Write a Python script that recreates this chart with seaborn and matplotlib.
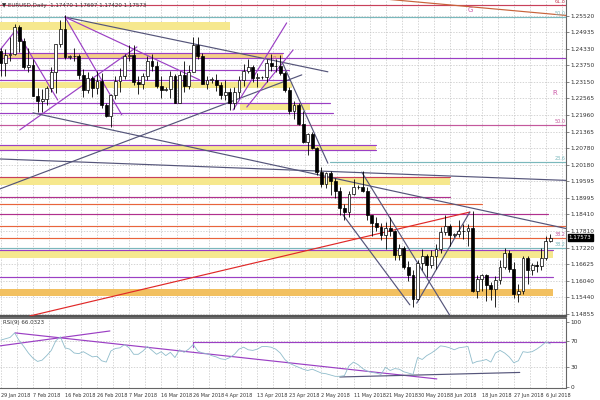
import numpy as np
import seaborn as sns
import matplotlib.pyplot as plt

sns.set_theme(style="white")
plt.rcParams["font.family"] = ["DejaVu Sans"]

# ---- daily candles (bar index 0 = 29 Jan 2018) ----
opens = [1.2427, 1.2384, 1.2411, 1.2414, 1.2511, 1.2461, 1.2368, 1.2377, 1.2265, 1.2248,
         1.2252, 1.2292, 1.2351, 1.2449, 1.2505, 1.2405, 1.2406, 1.2407, 1.2339, 1.2286,
         1.2328, 1.2293, 1.2319, 1.2232, 1.2192, 1.2268, 1.2318, 1.2336, 1.2407, 1.2410,
         1.2313, 1.2307, 1.2335, 1.2391, 1.2370, 1.2301, 1.2287, 1.2290, 1.2336, 1.2240,
         1.2340, 1.2300, 1.2352, 1.2447, 1.2408, 1.2309, 1.2323, 1.2323, 1.2302, 1.2268,
         1.2277, 1.2239, 1.2280, 1.2322, 1.2355, 1.2367, 1.2329, 1.2331, 1.2333, 1.2381,
         1.2372, 1.2373, 1.2347, 1.2287, 1.2212, 1.2233, 1.2163, 1.2101, 1.2129, 1.2079,
         1.1992, 1.1950, 1.1988, 1.1960, 1.1925, 1.1864, 1.1850, 1.1915, 1.1940, 1.1938,
         1.1925, 1.1838, 1.1809, 1.1795, 1.1768, 1.1792, 1.1780, 1.1697, 1.1721, 1.1653,
         1.1625, 1.1537, 1.1665, 1.1693, 1.1658, 1.1693, 1.1716, 1.1776, 1.1800, 1.1768,
         1.1770, 1.1781, 1.1780, 1.1792, 1.1568, 1.1610, 1.1624, 1.1588, 1.1572, 1.1607,
         1.1654, 1.1701, 1.1647, 1.1555, 1.1568, 1.1685, 1.1641, 1.1660, 1.1655, 1.1686,
         1.1747]
highs = [1.2437, 1.2431, 1.2476, 1.2523, 1.2518, 1.2471, 1.2435, 1.2398, 1.2294, 1.2289,
         1.2300, 1.2367, 1.2450, 1.2537, 1.2555, 1.2412, 1.2435, 1.2415, 1.2361, 1.2350,
         1.2335, 1.2354, 1.2346, 1.2240, 1.2273, 1.2336, 1.2365, 1.2413, 1.2446, 1.2446,
         1.2335, 1.2347, 1.2406, 1.2413, 1.2389, 1.2337, 1.2295, 1.2354, 1.2344, 1.2354,
         1.2388, 1.2374, 1.2476, 1.2477, 1.2420, 1.2337, 1.2333, 1.2343, 1.2315, 1.2323,
         1.2292, 1.2296, 1.2337, 1.2378, 1.2396, 1.2376, 1.2348, 1.2337, 1.2396, 1.2414,
         1.2396, 1.2412, 1.2353, 1.2295, 1.2248, 1.2240, 1.2209, 1.2131, 1.2135, 1.2083,
         1.2010, 1.1993, 1.1996, 1.1970, 1.1939, 1.1879, 1.1926, 1.1968, 1.1946, 1.1996,
         1.1937, 1.1840, 1.1831, 1.1810, 1.1815, 1.1833, 1.1784, 1.1734, 1.1726, 1.1673,
         1.1640, 1.1676, 1.1718, 1.1700, 1.1715, 1.1734, 1.1796, 1.1840, 1.1806, 1.1775,
         1.1820, 1.1806, 1.1808, 1.1852, 1.1625, 1.1627, 1.1628, 1.1600, 1.1620, 1.1676,
         1.1721, 1.1714, 1.1671, 1.1591, 1.1692, 1.1690, 1.1666, 1.1674, 1.1720, 1.1764,
         1.1770]
lows = [1.2337, 1.2336, 1.2391, 1.2411, 1.2422, 1.2360, 1.2352, 1.2265, 1.2206, 1.2206,
        1.2232, 1.2280, 1.2274, 1.2440, 1.2396, 1.2398, 1.2390, 1.2324, 1.2260, 1.2275,
        1.2262, 1.2272, 1.2223, 1.2189, 1.2155, 1.2254, 1.2279, 1.2324, 1.2390, 1.2303,
        1.2272, 1.2288, 1.2320, 1.2353, 1.2294, 1.2258, 1.2282, 1.2256, 1.2239, 1.2240,
        1.2280, 1.2290, 1.2350, 1.2396, 1.2306, 1.2290, 1.2310, 1.2283, 1.2254, 1.2250,
        1.2215, 1.2218, 1.2258, 1.2300, 1.2348, 1.2316, 1.2297, 1.2325, 1.2313, 1.2355,
        1.2352, 1.2338, 1.2278, 1.2199, 1.2183, 1.2162, 1.2095, 1.2054, 1.2074, 1.1983,
        1.1938, 1.1936, 1.1910, 1.1901, 1.1838, 1.1822, 1.1832, 1.1910, 1.1932, 1.1920,
        1.1820, 1.1763, 1.1780, 1.1750, 1.1716, 1.1765, 1.1676, 1.1677, 1.1646, 1.1604,
        1.1510, 1.1535, 1.1642, 1.1617, 1.1650, 1.1644, 1.1703, 1.1766, 1.1726, 1.1760,
        1.1760, 1.1753, 1.1726, 1.1562, 1.1542, 1.1565, 1.1530, 1.1536, 1.1508, 1.1592,
        1.1645, 1.1633, 1.1541, 1.1527, 1.1557, 1.1591, 1.1624, 1.1636, 1.1641, 1.1679,
        1.1742]
closes = [1.2384, 1.2411, 1.2414, 1.2511, 1.2461, 1.2368, 1.2377, 1.2265, 1.2248, 1.2252,
          1.2292, 1.2351, 1.2449, 1.2505, 1.2405, 1.2406, 1.2407, 1.2339, 1.2286, 1.2328,
          1.2293, 1.2319, 1.2232, 1.2192, 1.2268, 1.2318, 1.2336, 1.2407, 1.2410, 1.2313,
          1.2307, 1.2335, 1.2391, 1.2370, 1.2301, 1.2287, 1.2290, 1.2336, 1.2240, 1.2340,
          1.2300, 1.2352, 1.2447, 1.2408, 1.2309, 1.2323, 1.2323, 1.2302, 1.2268, 1.2277,
          1.2239, 1.2280, 1.2322, 1.2355, 1.2367, 1.2329, 1.2331, 1.2333, 1.2381, 1.2372,
          1.2373, 1.2347, 1.2287, 1.2212, 1.2233, 1.2163, 1.2101, 1.2129, 1.2079, 1.1992,
          1.1950, 1.1988, 1.1960, 1.1925, 1.1864, 1.1850, 1.1915, 1.1940, 1.1938, 1.1925,
          1.1838, 1.1809, 1.1795, 1.1768, 1.1792, 1.1780, 1.1697, 1.1721, 1.1653, 1.1625,
          1.1537, 1.1665, 1.1693, 1.1658, 1.1693, 1.1716, 1.1776, 1.1800, 1.1768, 1.1770,
          1.1781, 1.1780, 1.1792, 1.1568, 1.1610, 1.1624, 1.1588, 1.1572, 1.1607, 1.1654,
          1.1701, 1.1647, 1.1555, 1.1568, 1.1685, 1.1641, 1.1660, 1.1655, 1.1686, 1.1747,
          1.17573]

# RSI(9)
rsi = [72, 74, 76, 83, 71, 62, 52, 44, 39, 41, 48, 56, 71, 77, 60, 58, 52, 51, 54, 50,
       46, 47, 40, 38, 55, 59, 60, 65, 60, 50, 50, 55, 62, 56, 50, 54, 48, 53, 45, 57,
       53, 58, 65, 55, 52, 51, 48, 46, 43, 42, 45, 50, 58, 61, 57, 56, 58, 62, 62, 61,
       58, 52, 42, 36, 33, 30, 27, 25, 27, 24, 21, 20, 18, 16, 16, 17, 32, 38, 34, 28,
       24, 22, 21, 19, 30, 25, 28, 27, 23, 21, 19, 45, 42, 48, 52, 57, 63, 62, 60, 57,
       60, 61, 62, 36, 39, 40, 42, 38, 52, 56, 52, 46, 37, 40, 54, 53, 54, 58, 63, 69,
       66]

date_bars = [0, 7, 14, 21, 28, 35, 42, 49, 56, 63, 70, 77, 84, 91, 98, 105, 112, 119]
date_labels = ["29 Jan 2018", "7 Feb 2018", "16 Feb 2018", "26 Feb 2018", "7 Mar 2018",
               "16 Mar 2018", "26 Mar 2018", "4 Apr 2018", "13 Apr 2018", "23 Apr 2018",
               "2 May 2018", "11 May 2018", "21 May 2018", "30 May 2018", "8 Jun 2018",
               "18 Jun 2018", "27 Jun 2018", "6 Jul 2018"]

price_labels = ["1.25520", "1.24935", "1.24330", "1.23750", "1.23150", "1.22565", "1.21960",
                "1.21365", "1.20780", "1.20180", "1.19595", "1.18995", "1.18410", "1.17810",
                "1.17220", "1.16625", "1.16040", "1.15440", "1.14855"]

# horizontal levels: price, from bar, to bar
level_price = [1.2590, 1.2547, 1.2418, 1.2401, 1.2358, 1.2322, 1.2240, 1.2204, 1.2161,
               1.2089, 1.2071, 1.2028, 1.1975, 1.1903, 1.1878, 1.1842, 1.1799, 1.1756,
               1.1721, 1.1714, 1.1617]
level_from = [-1, -1, -1, -1, -1, -1, -1, -1, -1, -1, -1, 71.8, -1, -1, -1, -1, -1, -1, -1, -1, -1]
level_to = [124, 124, 61.6, 124, 63, 63, 71.8, 72.5, 124, 82, 82, 124, 98, 98, 105, 119.4,
            124, 124, 124, 120.5, 120.5]
level_kind = ["red", "teal", "purple", "purple", "purple", "purple", "purple", "purple", "pink",
              "purple", "purple", "teal", "red", "magenta", "orange", "magenta", "orange",
              "orange", "teal", "purple", "purple"]

# support / resistance zones: low, high, from bar, to bar
zone_low = [1.2501, 1.2397, 1.2293, 1.2215, 1.2071, 1.1946, 1.1685, 1.1549]
zone_high = [1.2529, 1.2415, 1.2315, 1.2236, 1.2089, 1.1975, 1.1714, 1.1574]
zone_from = [-1, -1, -1, 52.2, -1, -1, -1, -1]
zone_to = [50, 61.6, 63.5, 67.5, 82, 98, 120.5, 120.5]
zone_kind = ["yellow", "tan", "yellow", "yellow", "yellow", "yellow", "yellow", "gold"]

# trend lines: bar0, price0, bar1, price1
trend_x0 = [-0.2, 3.3, 14.0, 14.0, 14.0, 4.1, 7.0, -0.2, 50.7, 53.7, 61.4, -0.2, 6.3, 78.8, 74.7, 102.4, 74.0]
trend_y0 = [1.2429, 1.2501, 1.2547, 1.2547, 1.2547, 1.2143, 1.2204, 1.1932, 1.2214, 1.2225,
            1.2386, 1.2039, 1.1477, 1.1992, 1.1839, 1.1849, 1.2626]
trend_x1 = [3.3, 12.4, 26.4, 71.4, 43.4, 29.7, 124, 65.7, 62.4, 63.8, 71.4, 124, 102.4, 98.0, 89.3, 90.8, 124]
trend_y1 = [1.2501, 1.2250, 1.2197, 1.2351, 1.2322, 1.2440, 1.1788, 1.2340, 1.2526, 1.2429,
            1.2024, 1.1962, 1.1849, 1.1480, 1.1517, 1.1523, 1.2552]
trend_kind = ["purple", "purple", "purple", "slate", "purple", "purple", "slate", "slate",
              "purple", "purple", "slate", "slate", "red2", "slate", "slate", "slate", "brown"]

# RSI pane lines
rsi_line_x0 = [41.9, 3.1, -0.2, 74.0]
rsi_line_y0 = [69, 83, 63, 15]
rsi_line_x1 = [124, 95.2, 23.8, 113.3]
rsi_line_y1 = [69, 12, 86, 22]
rsi_line_kind = ["purple", "purple", "purple", "slate"]

colors = {"purple": "#9b3fc4", "pink": "#c4589c", "magenta": "#b0308e", "red": "#c8405a",
          "orange": "#e8643c", "teal": "#7ab8bc", "slate": "#55557a", "red2": "#e02828",
          "brown": "#c8623a", "yellow": "#f6e88e", "tan": "#f5cf86", "gold": "#f2c060"}

# ---- figure ----
fig = plt.figure(figsize=(6, 4), dpi=100)
ax = fig.add_axes([0.0, 0.21, 0.9433, 0.79])
ax2 = fig.add_axes([0.0, 0.03, 0.9433, 0.175])

grid_kw = dict(color="#c4c4c4", lw=0.5, ls=(0, (2, 2)), zorder=0)
for g in np.arange(0, 124, 3.5):
    ax.axvline(g, **grid_kw)
    ax2.axvline(g, **grid_kw)
for lab in price_labels:
    ax.axhline(float(lab), **grid_kw)
for v in [70, 30]:
    ax2.axhline(v, **grid_kw)

for lo, hi, x0, x1, k in zip(zone_low, zone_high, zone_from, zone_to, zone_kind):
    ax.fill_between([x0, x1], lo, hi, color=colors[k], lw=0, zorder=1)
for p, x0, x1, k in zip(level_price, level_from, level_to, level_kind):
    ax.plot([x0, x1], [p, p], color=colors[k], lw=0.85, zorder=2)
for x0, y0, x1, y1, k in zip(trend_x0, trend_y0, trend_x1, trend_y1, trend_kind):
    ax.plot([x0, x1], [y0, y1], color=colors[k], lw=0.85, zorder=3)

# candles
bars = np.arange(len(closes))
o, h, l, c = map(np.array, (opens, highs, lows, closes))
ax.vlines(bars, l, h, color="black", lw=0.6, zorder=4)
body_lo = np.minimum(o, c)
body_h = np.maximum(np.abs(c - o), 0.00015)
ax.bar(bars, body_h, bottom=body_lo, width=0.62,
       color=np.where(c >= o, "white", "black"), edgecolor="black", lw=0.5, zorder=5)

ax.set_xlim(-0.2, 123.4)
ax.set_ylim(1.1477, 1.2608)
ax.set_xticks([])
ax.yaxis.tick_right()
ax.set_yticks([float(v) for v in price_labels])
ax.set_yticklabels(price_labels, fontsize=4.2, color="#333333")
ax.tick_params(axis="y", length=2, pad=1.5, width=0.5, colors="#555555", labelcolor="#333333")
for s in ["left", "top"]:
    ax.spines[s].set_visible(False)
ax.spines["right"].set_color("#666666")
ax.spines["right"].set_linewidth(0.8)
ax.spines["bottom"].set_color("#555555")
ax.spines["bottom"].set_linewidth(1.6)

# fibo labels and markers
fib_text = ["61.8", "50.0", "50.0", "23.6", "38.2", "38.2"]
fib_price = [1.2592, 1.2550, 1.2164, 1.2031, 1.1759, 1.1724]
fib_kind = ["red", "teal", "pink", "teal", "pink", "teal"]
for t, p, k in zip(fib_text, fib_price, fib_kind):
    ax.text(123.2, p, t, fontsize=3.5, color=colors[k], ha="right", va="bottom")
ax.text(102.4, 1.2572, "G", fontsize=5, color="#cc5aa8", ha="center", va="center")
ax.text(121.0, 1.2275, "R", fontsize=5, color="#cc5aa8", ha="center", va="center")
ax.text(59.8, 1.2398, "R", fontsize=4, color="#cc5aa8", ha="center", va="center")

ax.annotate("1.17573", xy=(1.0, 1.17573), xycoords=("axes fraction", "data"),
            xytext=(2, 0), textcoords="offset points", fontsize=4, color="white",
            va="center", ha="left",
            bbox=dict(boxstyle="square,pad=0.2", fc="black", ec="black"))

# RSI pane
sns.lineplot(x=bars, y=rsi, ax=ax2, color="#8fbccb", lw=0.6, zorder=3)
for x0, y0, x1, y1, k in zip(rsi_line_x0, rsi_line_y0, rsi_line_x1, rsi_line_y1, rsi_line_kind):
    ax2.plot([x0, x1], [y0, y1], color=colors[k], lw=0.85, zorder=2)
ax2.plot([41.9, 41.9], [62, 69], color=colors["purple"], lw=0.85)
ax2.set_xlim(-0.2, 123.4)
ax2.set_ylim(-2, 106)
ax2.yaxis.tick_right()
ax2.set_yticks([0, 30, 70, 100])
ax2.set_yticklabels(["0", "30", "70", "100"], fontsize=4.2)
ax2.set_xticks(date_bars)
ax2.set_xticklabels(date_labels, fontsize=3.5, ha="left")
ax2.tick_params(axis="both", length=2, pad=1.5, width=0.5, colors="#555555", labelcolor="#333333")
ax2.set_ylabel("")
ax2.spines["left"].set_visible(False)
ax2.spines["top"].set_color("#555555")
ax2.spines["top"].set_linewidth(1.2)
ax2.spines["right"].set_color("#666666")
ax2.spines["right"].set_linewidth(0.8)
ax2.spines["bottom"].set_color("#666666")
ax2.spines["bottom"].set_linewidth(0.8)
ax2.text(0.5, 103, "RSI(9) 66.0323", fontsize=4, color="#333333", va="top", ha="left")

fig.text(0.004, 0.992, "\u25bc EURUSD,Daily  1.17470 1.17697 1.17420 1.17573",
         fontsize=4, color="#333333", va="top", ha="left")

fig.savefig("out.png", dpi=100)
